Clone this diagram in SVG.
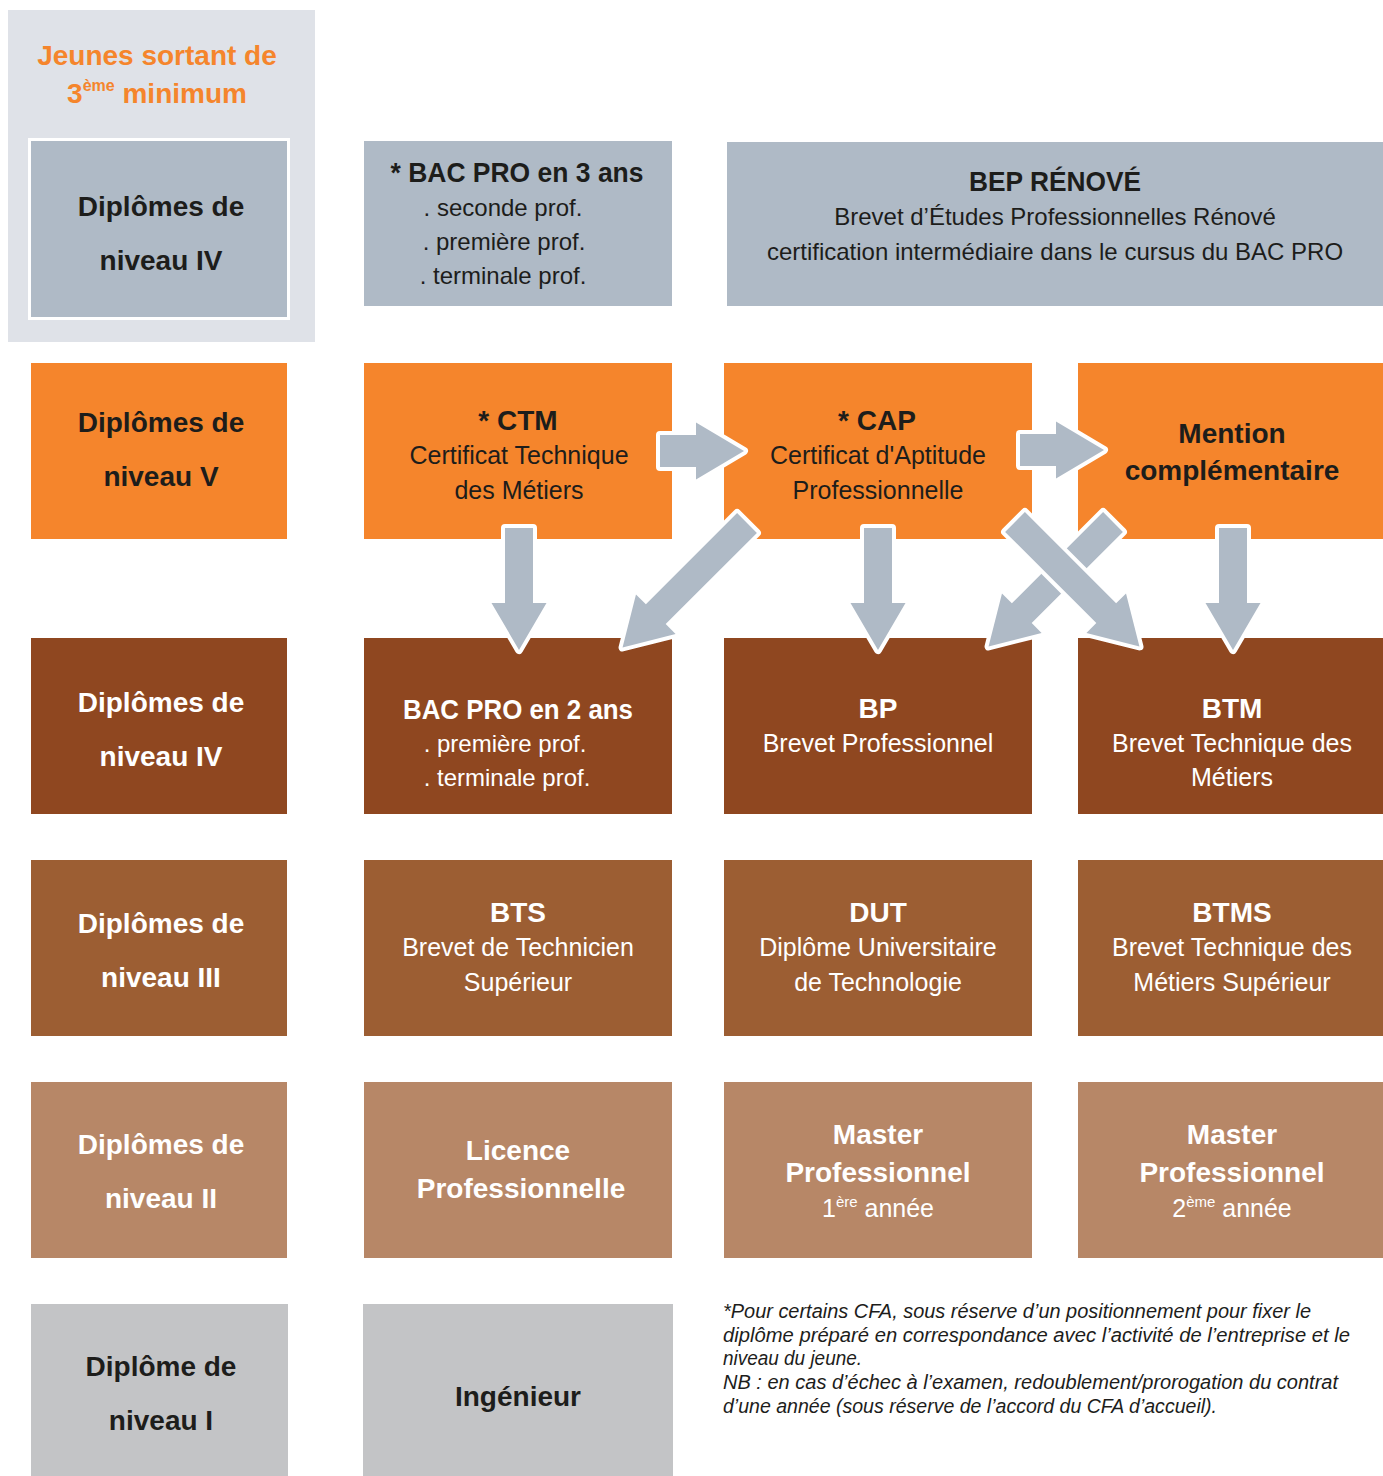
<svg xmlns="http://www.w3.org/2000/svg" width="1383" height="1476" viewBox="0 0 1383 1476">
<style>
text{font-family:"Liberation Sans",Arial,sans-serif;text-anchor:middle}
.b{font-weight:bold;font-size:28px}
.r{font-size:25px}
.r24{font-size:24px}
.d{fill:#1d1d1b}
.w{fill:#ffffff}
.o{fill:#f5852c}
.fn{font-style:italic;font-size:20px;fill:#1d1d1b;text-anchor:start}
.arrow{fill:#afbac6;stroke:#ffffff;stroke-width:8;stroke-linejoin:round;paint-order:stroke}
.gray{fill:#afbac6}
.org{fill:#f5852c}
.br1{fill:#8f4720}
.br2{fill:#9c5e33}
.br3{fill:#b78767}
.gr{fill:#c3c4c6}
</style>
<defs>
<polygon id="ah" points="0,-16 36,-16 36,-28.5 84,0 36,28.5 36,16 0,16"/>
<polygon id="av" points="0,-14 75,-14 75,-27.5 122,0 75,27.5 75,14 0,14"/>
<polygon id="ad" points="0,-14 129,-14 129,-28 176,0 129,28 129,14 0,14"/>
</defs>
<rect width="1383" height="1476" fill="#ffffff"/>

<g id="panel-jeunes">
<rect x="8" y="10" width="307" height="332" fill="#dfe2e8"/>
<text class="b o" x="157" y="65">Jeunes sortant de</text>
<text class="b o" x="157" y="103">3<tspan font-size="16" dy="-12">ème</tspan><tspan dy="12"> minimum</tspan></text>
</g>

<g id="label-niveau-IV-a">
<rect x="29.5" y="139.5" width="259" height="179" class="gray" stroke="#ffffff" stroke-width="3"/>
<text class="b d" x="161" y="216">Diplômes de</text>
<text class="b d" x="161" y="270">niveau IV</text>
</g>

<g id="bacpro3">
<rect x="364" y="141" width="308" height="165" class="gray"/>
<text class="b d" x="517" y="182" textLength="253" lengthAdjust="spacingAndGlyphs">* BAC PRO en 3 ans</text>
<text class="r24 d" x="503" y="216">. seconde prof.</text>
<text class="r24 d" x="504" y="250">. première prof.</text>
<text class="r24 d" x="503" y="284">. terminale prof.</text>
</g>

<g id="bep">
<rect x="727" y="142" width="656" height="164" class="gray"/>
<text class="b d" x="1055" y="191" textLength="172" lengthAdjust="spacingAndGlyphs">BEP RÉNOVÉ</text>
<text class="r24 d" x="1055" y="225">Brevet d’Études Professionnelles Rénové</text>
<text class="r24 d" x="1055" y="260">certification intermédiaire dans le cursus du BAC PRO</text>
</g>

<g id="label-niveau-V">
<rect x="31" y="363" width="256" height="176" class="org"/>
<text class="b d" x="161" y="432">Diplômes de</text>
<text class="b d" x="161" y="486">niveau V</text>
</g>

<g id="ctm">
<rect x="364" y="363" width="308" height="176" class="org"/>
<text class="b d" x="518" y="430">* CTM</text>
<text class="r d" x="519" y="464">Certificat Technique</text>
<text class="r d" x="519" y="499">des Métiers</text>
</g>

<g id="cap">
<rect x="724" y="363" width="308" height="176" class="org"/>
<text class="b d" x="877" y="430">* CAP</text>
<text class="r d" x="878" y="464">Certificat d'Aptitude</text>
<text class="r d" x="878" y="499">Professionnelle</text>
</g>

<g id="mention">
<rect x="1078" y="363" width="305" height="176" class="org"/>
<text class="b d" x="1232" y="443">Mention</text>
<text class="b d" x="1232" y="480">complémentaire</text>
</g>

<g id="label-niveau-IV-b">
<rect x="31" y="638" width="256" height="176" class="br1"/>
<text class="b w" x="161" y="712">Diplômes de</text>
<text class="b w" x="161" y="766">niveau IV</text>
</g>

<g id="bacpro2">
<rect x="364" y="638" width="308" height="176" class="br1"/>
<text class="b w" x="518" y="719" textLength="230" lengthAdjust="spacingAndGlyphs">BAC PRO en 2 ans</text>
<text class="r24 w" x="505" y="752">. première prof.</text>
<text class="r24 w" x="507" y="786">. terminale prof.</text>
</g>

<g id="bp">
<rect x="724" y="638" width="308" height="176" class="br1"/>
<text class="b w" x="878" y="718">BP</text>
<text class="r w" x="878" y="752">Brevet Professionnel</text>
</g>

<g id="btm">
<rect x="1078" y="638" width="305" height="176" class="br1"/>
<text class="b w" x="1232" y="718">BTM</text>
<text class="r w" x="1232" y="752">Brevet Technique des</text>
<text class="r w" x="1232" y="786">Métiers</text>
</g>

<g id="label-niveau-III">
<rect x="31" y="860" width="256" height="176" class="br2"/>
<text class="b w" x="161" y="933">Diplômes de</text>
<text class="b w" x="161" y="987">niveau III</text>
</g>

<g id="bts">
<rect x="364" y="860" width="308" height="176" class="br2"/>
<text class="b w" x="518" y="922">BTS</text>
<text class="r w" x="518" y="956">Brevet de Technicien</text>
<text class="r w" x="518" y="991">Supérieur</text>
</g>

<g id="dut">
<rect x="724" y="860" width="308" height="176" class="br2"/>
<text class="b w" x="878" y="922">DUT</text>
<text class="r w" x="878" y="956">Diplôme Universitaire</text>
<text class="r w" x="878" y="991">de Technologie</text>
</g>

<g id="btms">
<rect x="1078" y="860" width="305" height="176" class="br2"/>
<text class="b w" x="1232" y="922">BTMS</text>
<text class="r w" x="1232" y="956">Brevet Technique des</text>
<text class="r w" x="1232" y="991">Métiers Supérieur</text>
</g>

<g id="label-niveau-II">
<rect x="31" y="1082" width="256" height="176" class="br3"/>
<text class="b w" x="161" y="1154">Diplômes de</text>
<text class="b w" x="161" y="1208">niveau II</text>
</g>

<g id="licence">
<rect x="364" y="1082" width="308" height="176" class="br3"/>
<text class="b w" x="518" y="1160">Licence</text>
<text class="b w" x="521" y="1198">Professionnelle</text>
</g>

<g id="master1">
<rect x="724" y="1082" width="308" height="176" class="br3"/>
<text class="b w" x="878" y="1144">Master</text>
<text class="b w" x="878" y="1182">Professionnel</text>
<text class="r w" x="878" y="1217">1<tspan font-size="15" dy="-10">ère</tspan><tspan dy="10"> année</tspan></text>
</g>

<g id="master2">
<rect x="1078" y="1082" width="305" height="176" class="br3"/>
<text class="b w" x="1232" y="1144">Master</text>
<text class="b w" x="1232" y="1182">Professionnel</text>
<text class="r w" x="1232" y="1217">2<tspan font-size="15" dy="-10">ème</tspan><tspan dy="10"> année</tspan></text>
</g>

<g id="label-niveau-I">
<rect x="31" y="1304" width="257" height="172" class="gr"/>
<text class="b d" x="161" y="1376">Diplôme de</text>
<text class="b d" x="161" y="1430">niveau I</text>
</g>

<g id="ingenieur">
<rect x="363" y="1304" width="310" height="172" class="gr"/>
<text class="b d" x="518" y="1406">Ingénieur</text>
</g>

<g id="footnote">
<text class="fn" x="723" y="1318" textLength="588" lengthAdjust="spacingAndGlyphs">*Pour certains CFA, sous réserve d’un positionnement pour fixer le</text>
<text class="fn" x="723" y="1342" textLength="627" lengthAdjust="spacingAndGlyphs">diplôme préparé en correspondance avec l’activité de l’entreprise et le</text>
<text class="fn" x="723" y="1365" textLength="139" lengthAdjust="spacingAndGlyphs">niveau du jeune.</text>
<text class="fn" x="723" y="1389" textLength="615" lengthAdjust="spacingAndGlyphs">NB : en cas d’échec à l’examen, redoublement/prorogation du contrat</text>
<text class="fn" x="723" y="1413" textLength="494" lengthAdjust="spacingAndGlyphs">d’une année (sous réserve de l’accord du CFA d’accueil).</text>
</g>

<g id="connectors">
<use href="#ah" class="arrow" transform="translate(660,451)"/>
<use href="#ah" class="arrow" transform="translate(1020,450)"/>
<use href="#av" class="arrow" transform="translate(519,528) rotate(90)"/>
<use href="#av" class="arrow" transform="translate(878,528) rotate(90)"/>
<use href="#av" class="arrow" transform="translate(1233,528) rotate(90)"/>
<use href="#ad" class="arrow" transform="translate(747,523) rotate(135)"/>
<use href="#ad" class="arrow" transform="translate(1113,522) rotate(135)"/>
<use href="#ad" class="arrow" transform="translate(1015,522) rotate(45)"/>
</g>
</svg>
